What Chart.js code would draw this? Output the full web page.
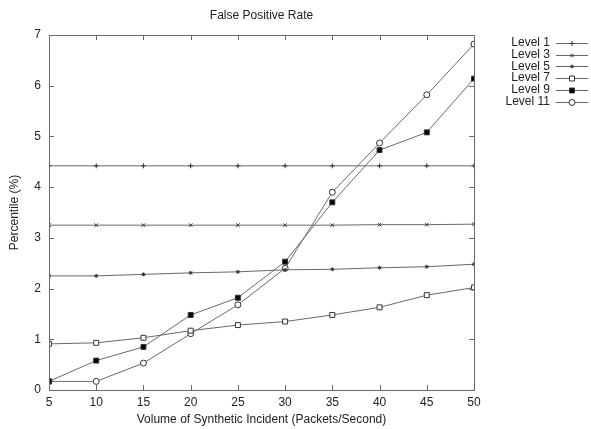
<!DOCTYPE html>
<html>
<head>
<meta charset="utf-8">
<script src="https://cdn.jsdelivr.net/npm/chart.js@4"></script>
<style>
  html, body { margin: 0; padding: 0; background: #fff; }
  #wrap { width: 591px; height: 429px; }
</style>
</head>
<body>
<div id="wrap"><canvas id="chart" width="591" height="429"></canvas></div>
<script>
const volumes = [5, 10, 15, 20, 25, 30, 35, 40, 45, 50]
const level1 = [4.42, 4.42, 4.42, 4.42, 4.42, 4.42, 4.42, 4.42, 4.42, 4.42]
const level3 = [3.25, 3.25, 3.25, 3.25, 3.25, 3.25, 3.25, 3.26, 3.26, 3.27]
const level5 = [2.25, 2.25, 2.28, 2.31, 2.33, 2.37, 2.38, 2.41, 2.43, 2.48]
const level7 = [0.91, 0.93, 1.03, 1.17, 1.28, 1.35, 1.48, 1.63, 1.87, 2.02]
const level9 = [0.17, 0.58, 0.85, 1.48, 1.82, 2.53, 3.70, 4.73, 5.08, 6.14]
const level11 = [0.17, 0.17, 0.53, 1.11, 1.68, 2.40, 3.90, 4.87, 5.82, 6.82]
const yTicks = [0, 1, 2, 3, 4, 5, 6, 7]

const FONT = "Liberation Sans, Arial, sans-serif"
const LINE = "#6a6a6a"
const MARK = "#333"

const series = [
    {label: "Level 1", values: level1, style: "cross", fill: false, r: 2.5},
    {label: "Level 3", values: level3, style: "crossRot", fill: false, r: 2.5},
    {label: "Level 5", values: level5, style: "star", fill: false, r: 2},
    {label: "Level 7", values: level7, style: "rect", fill: false, r: 3.5},
    {label: "Level 9", values: level9, style: "rect", fill: true, r: 3.5},
    {label: "Level 11", values: level11, style: "circle", fill: false, r: 3}
]

// gnuplot-like frame, inward ticks, labels, titles and legend
const framePlugin = {
    id: "frame",
    afterDraw(chart) {
        const ctx = chart.ctx
        const {left, right, top, bottom} = chart.chartArea
        const x = chart.scales.x
        const y = chart.scales.y
        ctx.save()
        ctx.strokeStyle = LINE
        ctx.lineWidth = 1
        ctx.strokeRect(left + 0.5, top + 0.5, right - left, bottom - top)
        ctx.beginPath()
        volumes.forEach(v => {
            const px = Math.round(x.getPixelForValue(v)) + 0.5
            ctx.moveTo(px, bottom); ctx.lineTo(px, bottom - 5)
            ctx.moveTo(px, top); ctx.lineTo(px, top + 5)
        })
        yTicks.forEach(v => {
            const py = Math.round(y.getPixelForValue(v)) + 0.5
            ctx.moveTo(left, py); ctx.lineTo(left + 5, py)
            ctx.moveTo(right, py); ctx.lineTo(right - 5, py)
        })
        ctx.stroke()

        ctx.fillStyle = "#222"
        ctx.font = "12px " + FONT
        ctx.textAlign = "center"
        ctx.textBaseline = "middle"
        volumes.forEach(v => ctx.fillText(String(v), x.getPixelForValue(v), bottom + 13))
        ctx.textAlign = "right"
        yTicks.forEach(v => ctx.fillText(String(v), left - 8, y.getPixelForValue(v)))

        ctx.textAlign = "center"
        ctx.fillText("False Positive Rate", (left + right) / 2, 16)
        ctx.fillText("Volume of Synthetic Incident (Packets/Second)", (left + right) / 2, bottom + 30)
        ctx.save()
        ctx.translate(15, (top + bottom) / 2)
        ctx.rotate(-Math.PI / 2)
        ctx.fillText("Percentile (%)", 0, 0)
        ctx.restore()

        // legend
        series.forEach((s, i) => {
            const ly = 43 + i * 11.7
            ctx.fillStyle = "#222"
            ctx.textAlign = "right"
            ctx.fillText(s.label, 550, ly)
            ctx.strokeStyle = LINE
            ctx.beginPath()
            ctx.moveTo(556, Math.round(ly) + 0.5)
            ctx.lineTo(588, Math.round(ly) + 0.5)
            ctx.stroke()
            ctx.fillStyle = s.fill ? "#000" : "#fff"
            ctx.strokeStyle = MARK
            Chart.helpers.drawPoint(ctx, {
                pointStyle: s.style,
                radius: s.r,
                borderWidth: 1
            }, 572, Math.round(ly) + 0.5)
        })
        ctx.restore()
    },
    beforeDraw(chart) {
        const ctx = chart.ctx
        ctx.save()
        ctx.fillStyle = "#fff"
        ctx.fillRect(0, 0, chart.width, chart.height)
        ctx.restore()
    }
}

new Chart(document.getElementById("chart").getContext("2d"), {
    type: "line",
    data: {
        datasets: series.map(s => ({
            label: s.label,
            data: volumes.map((v, i) => ({x: v, y: s.values[i]})),
            borderColor: LINE,
            borderWidth: 1,
            tension: 0,
            fill: false,
            pointStyle: s.style,
            pointRadius: s.r,
            pointBorderWidth: 1,
            pointBorderColor: MARK,
            pointBackgroundColor: s.fill ? "#000" : "#fff"
        }))
    },
    options: {
        responsive: false,
        animation: false,
        layout: {padding: {left: 0, right: 117, top: 35, bottom: 0}},
        plugins: {legend: {display: false}, title: {display: false}, tooltip: {enabled: false}},
        scales: {
            x: {
                type: "linear", min: 5, max: 50,
                grid: {display: false}, border: {display: false},
                ticks: {display: false},
                afterFit: s => { s.height = 39 }
            },
            y: {
                min: 0, max: 7,
                grid: {display: false}, border: {display: false},
                ticks: {display: false},
                afterFit: s => { s.width = 49 }
            }
        }
    },
    plugins: [framePlugin]
});
</script>
</body>
</html>
